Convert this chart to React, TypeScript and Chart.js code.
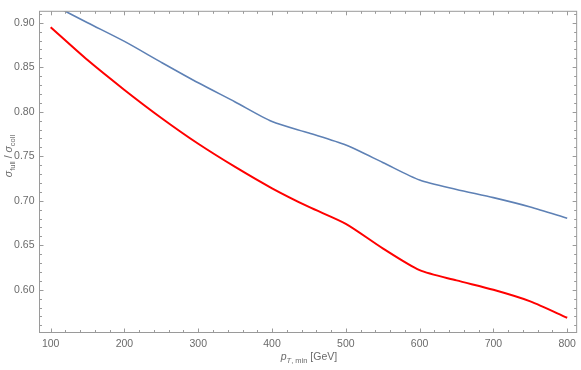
import React, { useEffect, useRef } from "react";
import { Chart, registerables } from "chart.js";

Chart.register(...registerables);

const xValues = [100, 150, 200, 250, 300, 350, 400, 450, 500, 550, 600, 650, 700, 750, 800];
const blueValues = [0.9215, 0.9, 0.879, 0.8555, 0.8325, 0.811, 0.789, 0.776, 0.7625, 0.743, 0.7232, 0.7127, 0.7035, 0.693, 0.6804];
const redValues = [0.8949, 0.858, 0.8245, 0.793, 0.764, 0.738, 0.714, 0.693, 0.674, 0.6465, 0.622, 0.6105, 0.6, 0.587, 0.5685];
const xTicks = [100, 200, 300, 400, 500, 600, 700, 800];
const yTicks = [0.6, 0.65, 0.7, 0.75, 0.8, 0.85, 0.9];
const xMinorStep = 20;
const yMinorStep = 0.01;

const FONT = "'Liberation Sans Narrow', 'Liberation Sans', Arial, sans-serif";
const LABEL_COLOR = "#6b6b6b";
const FRAME_COLOR = "#9a9a9a";

const framePlugin = {
  id: "mmaFrame",
  afterDraw(chart: any) {
    const ctx = chart.ctx as CanvasRenderingContext2D;
    const a = chart.chartArea;
    const xs = chart.scales.x;
    const ys = chart.scales.y;
    ctx.save();
    ctx.strokeStyle = FRAME_COLOR;
    ctx.lineWidth = 1;
    ctx.strokeRect(a.left, a.top, a.right - a.left, a.bottom - a.top);
    const major = 4;
    const minor = 2.5;
    ctx.beginPath();
    const xmin = xs.min, xmax = xs.max;
    const xStart = Math.ceil(xmin / xMinorStep) * xMinorStep;
    for (let v = xStart; v <= xmax + 1e-9; v += xMinorStep) {
      const isMajor = xTicks.some((t) => Math.abs(t - v) < 1e-6);
      const len = isMajor ? major : minor;
      const px = Math.round(xs.getPixelForValue(v)) + 0.5;
      ctx.moveTo(px, a.bottom);
      ctx.lineTo(px, a.bottom - len);
      ctx.moveTo(px, a.top);
      ctx.lineTo(px, a.top + len);
    }
    const ymin = ys.min, ymax = ys.max;
    const yStart = Math.ceil(ymin / yMinorStep - 1e-9);
    for (let k = yStart; k * yMinorStep <= ymax + 1e-9; k++) {
      const v = k * yMinorStep;
      const isMajor = yTicks.some((t) => Math.abs(t - v) < 1e-6);
      const len = isMajor ? major : minor;
      const py = Math.round(ys.getPixelForValue(v)) + 0.5;
      ctx.moveTo(a.left, py);
      ctx.lineTo(a.left + len, py);
      ctx.moveTo(a.right, py);
      ctx.lineTo(a.right - len, py);
    }
    ctx.stroke();

    ctx.fillStyle = LABEL_COLOR;
    ctx.textBaseline = "alphabetic";
    const big = 10.5;
    const small = 7.5;
    const parts = [
      { t: "p", f: `italic ${big}px ${FONT}`, dy: 0 },
      { t: "T", f: `italic ${small}px ${FONT}`, dy: 3 },
      { t: ", min", f: `${small}px ${FONT}`, dy: 3 },
      { t: " [GeV]", f: `${big}px ${FONT}`, dy: 0 },
    ];
    let total = 0;
    const widths = parts.map((p) => {
      ctx.font = p.f;
      const w = ctx.measureText(p.t).width;
      total += w;
      return w;
    });
    let x = 309 - total / 2;
    const baseY = 359.5;
    parts.forEach((p, i) => {
      ctx.font = p.f;
      ctx.fillText(p.t, x, baseY + p.dy);
      x += widths[i];
    });

    const yparts = [
      { t: "σ", f: `italic ${big}px ${FONT}`, dy: 0 },
      { t: "full", f: `${small}px ${FONT}`, dy: 3 },
      { t: " / ", f: `${big}px ${FONT}`, dy: 0 },
      { t: "σ", f: `italic ${big}px ${FONT}`, dy: 0 },
      { t: "coll", f: `${small}px ${FONT}`, dy: 3 },
    ];
    let ytotal = 0;
    const ywidths = yparts.map((p) => {
      ctx.font = p.f;
      const w = ctx.measureText(p.t).width;
      ytotal += w;
      return w;
    });
    ctx.translate(12, 156);
    ctx.rotate(-Math.PI / 2);
    let yx = -ytotal / 2;
    yparts.forEach((p, i) => {
      ctx.font = p.f;
      ctx.fillText(p.t, yx, p.dy);
      yx += ywidths[i];
    });
    ctx.restore();
  },
};

export default function App() {
  const ref = useRef<HTMLCanvasElement | null>(null);
  useEffect(() => {
    if (!ref.current) return;
    const chart = new Chart(ref.current, {
      type: "line",
      data: {
        datasets: [
          {
            label: "full",
            data: xValues.map((x, i) => ({ x, y: blueValues[i] })),
            borderColor: "#5e81b5",
            borderWidth: 1.6,
            pointRadius: 0,
            tension: 0.25,
            fill: false,
            clip: 0,
          },
          {
            label: "coll",
            data: xValues.map((x, i) => ({ x, y: redValues[i] })),
            borderColor: "#ff0000",
            borderWidth: 2,
            pointRadius: 0,
            tension: 0.25,
            fill: false,
            clip: 0,
          },
        ],
      },
      options: {
        responsive: false,
        animation: false,
        events: [],
        layout: { padding: { left: 0, right: 2.5, top: 0.5, bottom: 0 } },
        plugins: { legend: { display: false }, tooltip: { enabled: false }, title: { display: false } },
        scales: {
          x: {
            type: "linear",
            min: 84.87,
            max: 812.83,
            grid: { display: false, drawTicks: false },
            border: { display: false },
            afterBuildTicks: (s: any) => {
              s.ticks = xTicks.map((v) => ({ value: v }));
            },
            afterFit: (s: any) => {
              s.height = 37.5;
            },
            ticks: {
              color: LABEL_COLOR,
              font: { family: FONT, size: 10.5 },
              padding: 5,
              maxRotation: 0,
              autoSkip: false,
              callback: (v: any) => String(v),
            },
          },
          y: {
            type: "linear",
            min: 0.55196,
            max: 0.91283,
            grid: { display: false, drawTicks: false },
            border: { display: false },
            afterBuildTicks: (s: any) => {
              s.ticks = yTicks.map((v) => ({ value: v }));
            },
            afterFit: (s: any) => {
              s.width = 39.5;
            },
            ticks: {
              color: LABEL_COLOR,
              font: { family: FONT, size: 10.5 },
              padding: 5,
              autoSkip: false,
              callback: (v: any) => Number(v).toFixed(2),
            },
          },
        },
      },
      plugins: [framePlugin],
    });
    return () => chart.destroy();
  }, []);
  return (
    <div style={{ position: "fixed", left: 0, top: 0, width: 581, height: 370, background: "#fff" }}>
      <canvas ref={ref} width={581} height={370} style={{ display: "block" }} />
    </div>
  );
}
